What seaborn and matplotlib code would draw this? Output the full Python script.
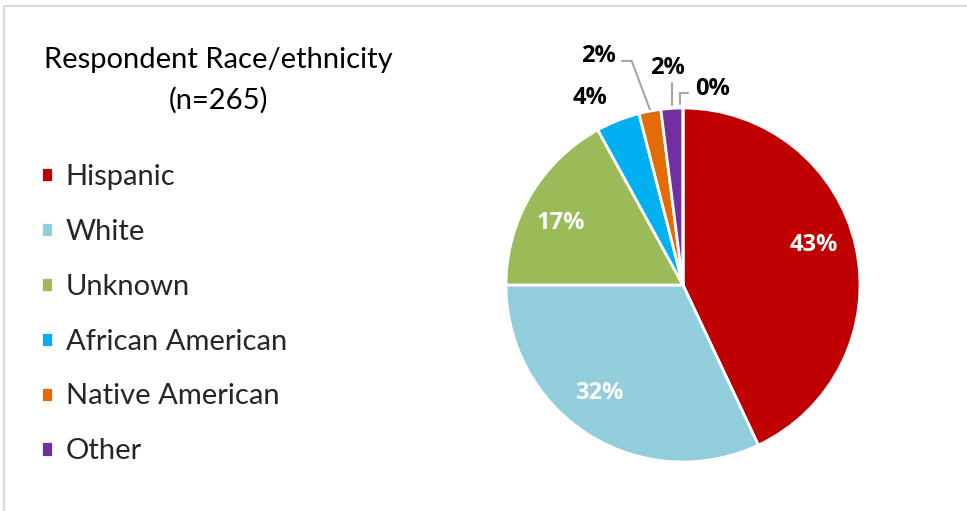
import matplotlib
matplotlib.use("Agg")
import numpy as np
import matplotlib.pyplot as plt
from matplotlib.patches import Rectangle
import seaborn as sns

# Respondent race/ethnicity shares (percent of n=265)
categories = ["Hispanic", "White", "Unknown", "African American", "Native American", "Other", ""]
percentages = [43, 32, 17, 4, 2, 2, 0]
pct_labels = ["43%", "32%", "17%", "4%", "2%", "2%", "0%"]
title_lines = ["Respondent Race/ethnicity", "(n=265)"]

slice_hex = ["#C00000", "#92CDDC", "#9BBB59", "#00B0F0", "#E36C09", "#7030A0", "#FFFFFF"]

sns.set_theme(style="white")
plt.rcParams["font.family"] = ["Lato", "DejaVu Sans"]
bold_family = ["Open Sans", "DejaVu Sans"]
palette = sns.color_palette(slice_hex)

W, H = 967, 511
fig = plt.figure(figsize=(W / 100, H / 100), dpi=100)
fig.patch.set_facecolor("white")

# chart-area frame (only top and left edges fall inside the canvas)
fig.patches.append(Rectangle((4 / W, -0.2), 1.5, (H - 6.5) / H + 0.2,
                             transform=fig.transFigure, fill=False,
                             edgecolor="#D9D9D9", linewidth=1.5))

# pie axes: centre (683, 285) px, radius 177 px
cx, cy, r = 683, 285, 177
ax = fig.add_axes([(cx - r) / W, (H - cy - r) / H, 2 * r / W, 2 * r / H])
wedges, _ = ax.pie(percentages, colors=palette, startangle=90, counterclock=False,
                   radius=1.0, wedgeprops=dict(edgecolor="white", linewidth=2))
ax.set_xlim(-1, 1)
ax.set_ylim(-1, 1)
ax.set_aspect("equal")
ax.axis("off")

# inside labels for the three large slices (slightly nudged around the mid angle)
inner_nudge_deg = [4.4, -5.4, 3.5]
for w, lab, nd in zip(wedges[:3], pct_labels[:3], inner_nudge_deg):
    mid = np.deg2rad((w.theta1 + w.theta2) / 2 + nd)
    ax.text(0.775 * np.cos(mid), 0.775 * np.sin(mid), lab, ha="center", va="center",
            color="white", fontsize=17, fontweight="bold", family=bold_family)

# outside labels for the small slices, with leader lines where needed
outer_pos = [(-0.525, 1.055), (-0.48, 1.295), (-0.09, 1.225), (0.165, 1.11)]
for k, (w, lab, (tx, ty)) in enumerate(zip(wedges[3:], pct_labels[3:], outer_pos)):
    ax.text(tx, ty, lab, ha="center", va="center", color="black",
            fontsize=17, fontweight="bold", family=bold_family, clip_on=False)
    mid = np.deg2rad((w.theta1 + w.theta2) / 2)
    ex, ey = np.cos(mid), np.sin(mid)
    if k == 1:
        xs, ys = [ex, -0.29, -0.345], [ey + 0.01, 1.266, 1.266]
    elif k == 2:
        xs, ys = [ex, ex], [ey + 0.02, 1.14]
    elif k == 3:
        xs, ys = [ex - 0.015, ex - 0.015, 0.03], [ey + 0.02, 1.085, 1.085]
    else:
        continue
    ax.plot(xs, ys, color="#A6A6A6", linewidth=1.5, clip_on=False,
            solid_joinstyle="miter")

# title
fig.text(218 / W, 1 - 60 / H, title_lines[0], ha="center", va="center",
         fontsize=21, color="black")
fig.text(218 / W, 1 - 100 / H, title_lines[1], ha="center", va="center",
         fontsize=21, color="black")

# legend
fig.legend(wedges[:6], categories[:6], loc="upper left",
           bbox_to_anchor=(41 / W, 1 - 164 / H), frameon=False,
           fontsize=21, handlelength=0.42, handleheight=0.42,
           handletextpad=0.42, labelspacing=0.99, borderpad=0, borderaxespad=0)

fig.savefig("out.png", dpi=100, facecolor="white")
